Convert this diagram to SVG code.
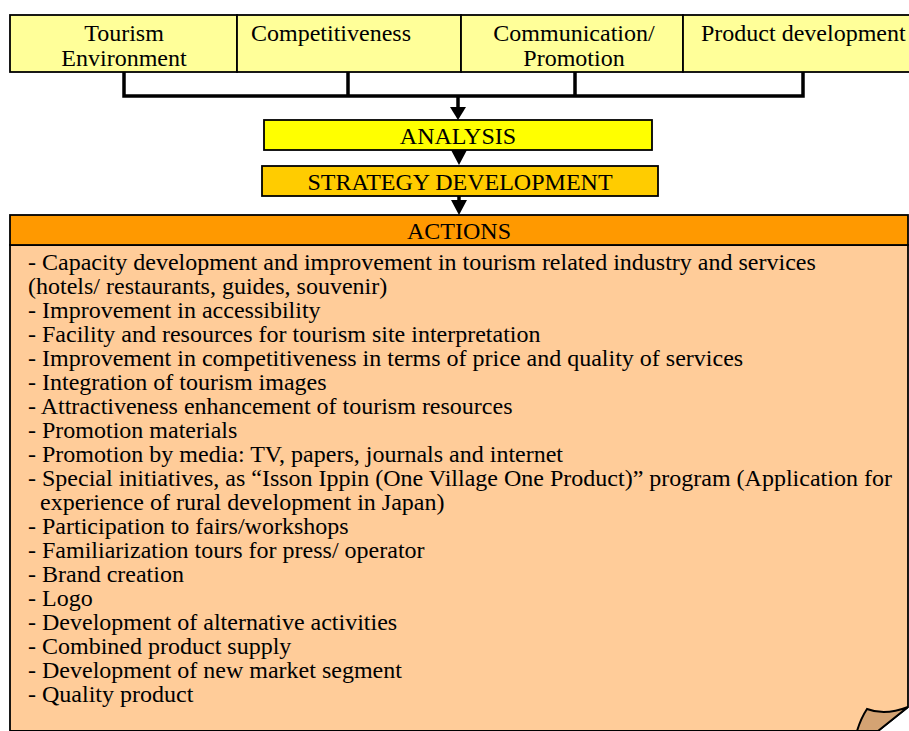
<svg xmlns="http://www.w3.org/2000/svg" width="909" height="731" viewBox="0 0 909 731">
<style>
text{font-family:"Liberation Serif","Times New Roman",serif;fill:#000}
.top{font-size:24px}
.hd{font-size:24px;text-anchor:middle}
.body{font-size:24px}
.box{stroke:#000;stroke-width:1.8}
.conn{fill:none;stroke:#000;stroke-width:3.5}
</style>
<rect width="909" height="731" fill="#fff"/>
<g id="n-tourism"><rect class="box" x="10" y="15" width="227" height="57" fill="#FFFF99"/><text class="top" x="124" y="41" text-anchor="middle">Tourism</text><text class="top" x="124" y="66" text-anchor="middle">Environment</text></g>
<g id="n-compet"><rect class="box" x="237" y="15" width="224" height="57" fill="#FFFF99"/><text class="top" x="251" y="41">Competitiveness</text></g>
<g id="n-comm"><rect class="box" x="461" y="15" width="222" height="57" fill="#FFFF99"/><text class="top" x="574" y="41" text-anchor="middle">Communication/</text><text class="top" x="574" y="66" text-anchor="middle">Promotion</text></g>
<g id="n-prod"><rect class="box" x="683" y="15" width="240" height="57" fill="#FFFF99"/><text class="top" x="701" y="41">Product development</text></g>
<g id="connectors">
<path class="conn" d="M124,72 V96 H803 V72 M348,72 V96 M575,72 V96"/>
<path d="M458,96 V108" class="conn"/>
<path d="M450,107 L466,107 L458,120 Z"/>
<path d="M451,150 L467,150 L459,165 Z"/>
<path d="M459,196 V201" class="conn"/>
<path d="M451,200 L467,200 L459,215 Z"/>
</g>
<g id="n-analysis"><rect class="box" x="264" y="120" width="388" height="30" fill="#FFFF00"/><text class="hd" x="458" y="144">ANALYSIS</text></g>
<g id="n-strategy"><rect class="box" x="262" y="166" width="396" height="30" fill="#FFCC00"/><text class="hd" x="460" y="190">STRATEGY DEVELOPMENT</text></g>
<g id="n-actions">
<path d="M10,245 H908 V707 L878,731 H10 Z" fill="#FFCC99" stroke="#000" stroke-width="1.8"/>
<path d="M867,709 Q885,716 908,707 L878,731 L857,731 Q861,718 867,709 Z" fill="#D4A373" stroke="#000" stroke-width="2"/>
<rect class="box" x="10" y="215" width="898" height="30" fill="#FF9900"/>
<text class="hd" x="459" y="239">ACTIONS</text>
<text class="body" x="28" y="270">- Capacity development and improvement in tourism related industry and services</text>
<text class="body" x="28" y="294">(hotels/ restaurants, guides, souvenir)</text>
<text class="body" x="28" y="318">- Improvement in accessibility</text>
<text class="body" x="28" y="342">- Facility and resources for tourism site interpretation</text>
<text class="body" x="28" y="366">- Improvement in competitiveness in terms of price and quality of services</text>
<text class="body" x="28" y="390">- Integration of tourism images</text>
<text class="body" x="28" y="414">- Attractiveness enhancement of tourism resources</text>
<text class="body" x="28" y="438">- Promotion materials</text>
<text class="body" x="28" y="462">- Promotion by media: TV, papers, journals and internet</text>
<text class="body" x="28" y="486">- Special initiatives, as “Isson Ippin (One Village One Product)” program (Application for</text>
<text class="body" x="40" y="510">experience of rural development in Japan)</text>
<text class="body" x="28" y="534">- Participation to fairs/workshops</text>
<text class="body" x="28" y="558">- Familiarization tours for press/ operator</text>
<text class="body" x="28" y="582">- Brand creation</text>
<text class="body" x="28" y="606">- Logo</text>
<text class="body" x="28" y="630">- Development of alternative activities</text>
<text class="body" x="28" y="654">- Combined product supply</text>
<text class="body" x="28" y="678">- Development of new market segment</text>
<text class="body" x="28" y="702">- Quality product</text>
</g>
</svg>
